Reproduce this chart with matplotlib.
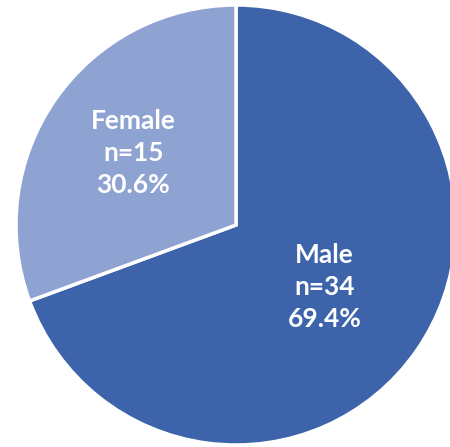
import numpy as np
import matplotlib.pyplot as plt

# gender split
labels = ['Male', 'Female']
counts = [34, 15]
colors = ['#3D64AB', '#8FA3D3']
label_dist = [0.49, 0.57]

plt.rcParams['font.family'] = ['Lato', 'DejaVu Sans']

fig = plt.figure(figsize=(4.5, 4.47), dpi=100)
ax = fig.add_axes([0, 0, 1, 1])
ax.set_xlim(0, 450)
ax.set_ylim(0, 447)
ax.set_aspect('equal')
ax.axis('off')

cx, cy, r = 236, 222, 220
wedges, _ = ax.pie(counts, colors=colors, startangle=90, counterclock=False,
                   center=(cx, cy), radius=r,
                   wedgeprops=dict(edgecolor='white', linewidth=2.5))
ax.set_xlim(0, 450)
ax.set_ylim(0, 447)

total = sum(counts)
for w, lab, n, d in zip(wedges, labels, counts, label_dist):
    mid = np.deg2rad((w.theta1 + w.theta2) / 2)
    x = cx + d * r * np.cos(mid)
    y = cy + d * r * np.sin(mid)
    txt = f"{lab}\nn={n}\n{100 * n / total:.1f}%"
    ax.text(x, y, txt, ha='center', va='center', color='white',
            fontsize=19, fontweight='bold', linespacing=1.4)

fig.savefig('out.png', dpi=100)
